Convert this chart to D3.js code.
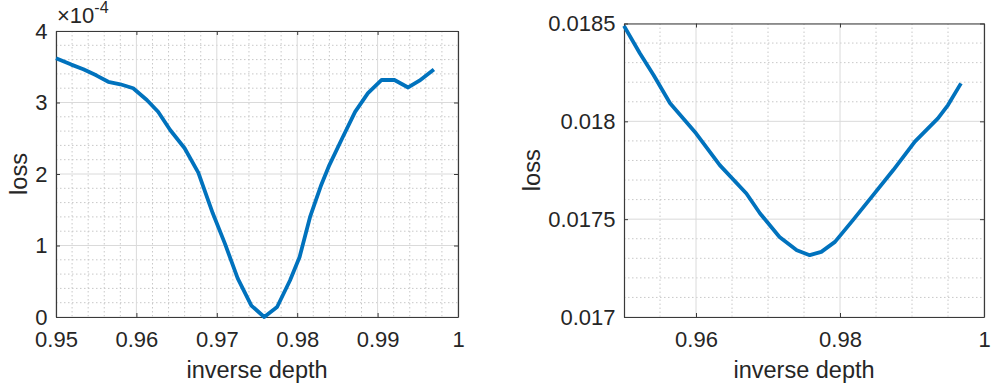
<!DOCTYPE html>
<html>
<head>
<meta charset="utf-8">
<script src="https://cdn.jsdelivr.net/npm/d3@7"></script>
<style>
  html, body { margin: 0; padding: 0; background: #fff; }
  svg { display: block; }
  text { font-family: "Liberation Sans", Arial, Helvetica, sans-serif; fill: #262626; }
</style>
</head>
<body>
<svg id="chart" width="995" height="391"></svg>
<script>
// Left panel: loss (in units of 1e-4) against inverse depth
const leftDepth = [0.9500, 0.9519, 0.9534, 0.9550, 0.9565, 0.9580, 0.9596, 0.9613, 0.9627, 0.9642,
                   0.9660, 0.9677, 0.9695, 0.9710, 0.9726, 0.9743, 0.9759, 0.9775, 0.9791, 0.9803,
                   0.9816, 0.9830, 0.9840, 0.9856, 0.9872, 0.9888, 0.9905, 0.9921, 0.9938, 0.9952, 0.9970];
const leftLoss  = [3.62, 3.53, 3.465, 3.38, 3.29, 3.255, 3.20, 3.035, 2.87, 2.615,
                   2.36, 2.02, 1.45, 1.03, 0.54, 0.16, 0.0, 0.14, 0.51, 0.84,
                   1.40, 1.85, 2.125, 2.50, 2.87, 3.13, 3.315, 3.315, 3.21, 3.305, 3.46];
const leftExponent = -4;
const leftXTicks = [0.95, 0.96, 0.97, 0.98, 0.99, 1];
const leftYTicks = [0, 1, 2, 3, 4];

// Right panel: loss against inverse depth
const rightDepth = [0.9500, 0.9522, 0.9541, 0.9564, 0.9600, 0.9633, 0.9670, 0.9689, 0.9716, 0.9740,
                    0.9758, 0.9774, 0.9793, 0.9818, 0.9846, 0.9874, 0.9904, 0.9936, 0.9950, 0.9968];
const rightLoss  = [0.018488, 0.018348, 0.018237, 0.018092, 0.017939, 0.017776, 0.017631, 0.017529, 0.017409, 0.017341,
                    0.017316, 0.017333, 0.017384, 0.017495, 0.017623, 0.017751, 0.017896, 0.018015, 0.018083, 0.018194];
const rightXTicks = [0.96, 0.98, 1];
const rightYTicks = [0.017, 0.0175, 0.018, 0.0185];

const svg = d3.select("#chart");
const lineColor = "#0072BD";
const axisColor = "#3a3a3a";
const tickFont = "22px";
const labelFont = "23.5px";

function drawPanel(opt) {
  const { left, right, top, bottom, xDomain, yDomain, xs, ys, xTicks, yTicks,
          xMinorStep, yMinorStep, xFmt, yFmt, ylabelX } = opt;
  const x = d3.scaleLinear().domain(xDomain).range([left, right]);
  const y = d3.scaleLinear().domain(yDomain).range([bottom, top]);
  const g = svg.append("g");

  // minor grid (dotted)
  const eps = 1e-9;
  const xMinor = d3.range(xDomain[0], xDomain[1] + eps, xMinorStep)
    .filter(v => !xTicks.some(t => Math.abs(t - v) < xMinorStep / 10) && v > xDomain[0] + eps && v < xDomain[1] - eps);
  const yMinor = d3.range(yDomain[0], yDomain[1] + eps, yMinorStep)
    .filter(v => !yTicks.some(t => Math.abs(t - v) < yMinorStep / 10) && v > yDomain[0] + eps && v < yDomain[1] - eps);
  g.selectAll(".xminor").data(xMinor).join("line")
    .attr("x1", d => x(d)).attr("x2", d => x(d)).attr("y1", top).attr("y2", bottom)
    .attr("stroke", "#c8c8c8").attr("stroke-width", 1).attr("stroke-dasharray", "1.5,2.5");
  g.selectAll(".yminor").data(yMinor).join("line")
    .attr("x1", left).attr("x2", right).attr("y1", d => y(d)).attr("y2", d => y(d))
    .attr("stroke", "#c8c8c8").attr("stroke-width", 1).attr("stroke-dasharray", "1.5,2.5");

  // major grid (solid)
  g.selectAll(".xmajor").data(xTicks).join("line")
    .attr("x1", d => x(d)).attr("x2", d => x(d)).attr("y1", top).attr("y2", bottom)
    .attr("stroke", "#dadada").attr("stroke-width", 1);
  g.selectAll(".ymajor").data(yTicks).join("line")
    .attr("x1", left).attr("x2", right).attr("y1", d => y(d)).attr("y2", d => y(d))
    .attr("stroke", "#dadada").attr("stroke-width", 1);

  // axes (ticks point inward, box on all four sides)
  const styleAxis = sel => {
    sel.select(".domain").attr("stroke", axisColor).attr("stroke-width", 1.2);
    sel.selectAll(".tick line").attr("stroke", axisColor).attr("stroke-width", 1);
    sel.selectAll(".tick text").attr("fill", "#262626").style("font-size", tickFont)
      .style("font-family", '"Liberation Sans", Arial, sans-serif');
  };
  g.append("g").attr("transform", `translate(0,${bottom})`)
    .call(d3.axisBottom(x).tickValues(xTicks).tickFormat(xFmt).tickSizeInner(-4).tickSizeOuter(0).tickPadding(14.5))
    .call(styleAxis);
  g.append("g").attr("transform", `translate(0,${top})`)
    .call(d3.axisTop(x).tickValues(xTicks).tickFormat("").tickSizeInner(-4).tickSizeOuter(0))
    .call(styleAxis);
  g.append("g").attr("transform", `translate(${left},0)`)
    .call(d3.axisLeft(y).tickValues(yTicks).tickFormat(yFmt).tickSizeInner(-4).tickSizeOuter(0).tickPadding(8.5))
    .call(styleAxis);
  g.append("g").attr("transform", `translate(${right},0)`)
    .call(d3.axisRight(y).tickValues(yTicks).tickFormat("").tickSizeInner(-4).tickSizeOuter(0))
    .call(styleAxis);

  // curve
  const pts = xs.map((v, i) => [v, ys[i]]);
  g.append("path").datum(pts)
    .attr("fill", "none").attr("stroke", lineColor).attr("stroke-width", 3.8)
    .attr("stroke-linejoin", "round").attr("stroke-linecap", "butt")
    .attr("d", d3.line().x(d => x(d[0])).y(d => y(d[1])));

  // axis labels
  g.append("text").attr("x", (left + right) / 2).attr("y", 378)
    .attr("text-anchor", "middle").style("font-size", labelFont).text("inverse depth");
  g.append("text").attr("transform", `translate(${ylabelX},${(top + bottom) / 2}) rotate(-90)`)
    .attr("text-anchor", "middle").style("font-size", labelFont).text("loss");
  return { x, y };
}

const fmt2 = d => String(+d.toFixed(2));
const fmt4 = d => String(+d.toFixed(4));

drawPanel({
  left: 56, right: 458, top: 31, bottom: 317,
  xDomain: [0.95, 1], yDomain: [0, 4],
  xs: leftDepth, ys: leftLoss, xTicks: leftXTicks, yTicks: leftYTicks,
  xMinorStep: 0.002, yMinorStep: 0.2,
  xFmt: fmt2, yFmt: d => String(d), ylabelX: 27
});

// exponent multiplier for the left panel's y axis
const expText = svg.append("text").attr("x", 57).attr("y", 23).style("font-size", "22px");
expText.append("tspan").text("\u00d710");
expText.append("tspan").attr("dy", -10).style("font-size", "16px").text(String(leftExponent));

drawPanel({
  left: 624, right: 984, top: 23.5, bottom: 317,
  xDomain: [0.95, 1], yDomain: [0.017, 0.0185],
  xs: rightDepth, ys: rightLoss, xTicks: rightXTicks, yTicks: rightYTicks,
  xMinorStep: 0.005, yMinorStep: 0.0001,
  xFmt: fmt2, yFmt: fmt4, ylabelX: 540
});
</script>
</body>
</html>
